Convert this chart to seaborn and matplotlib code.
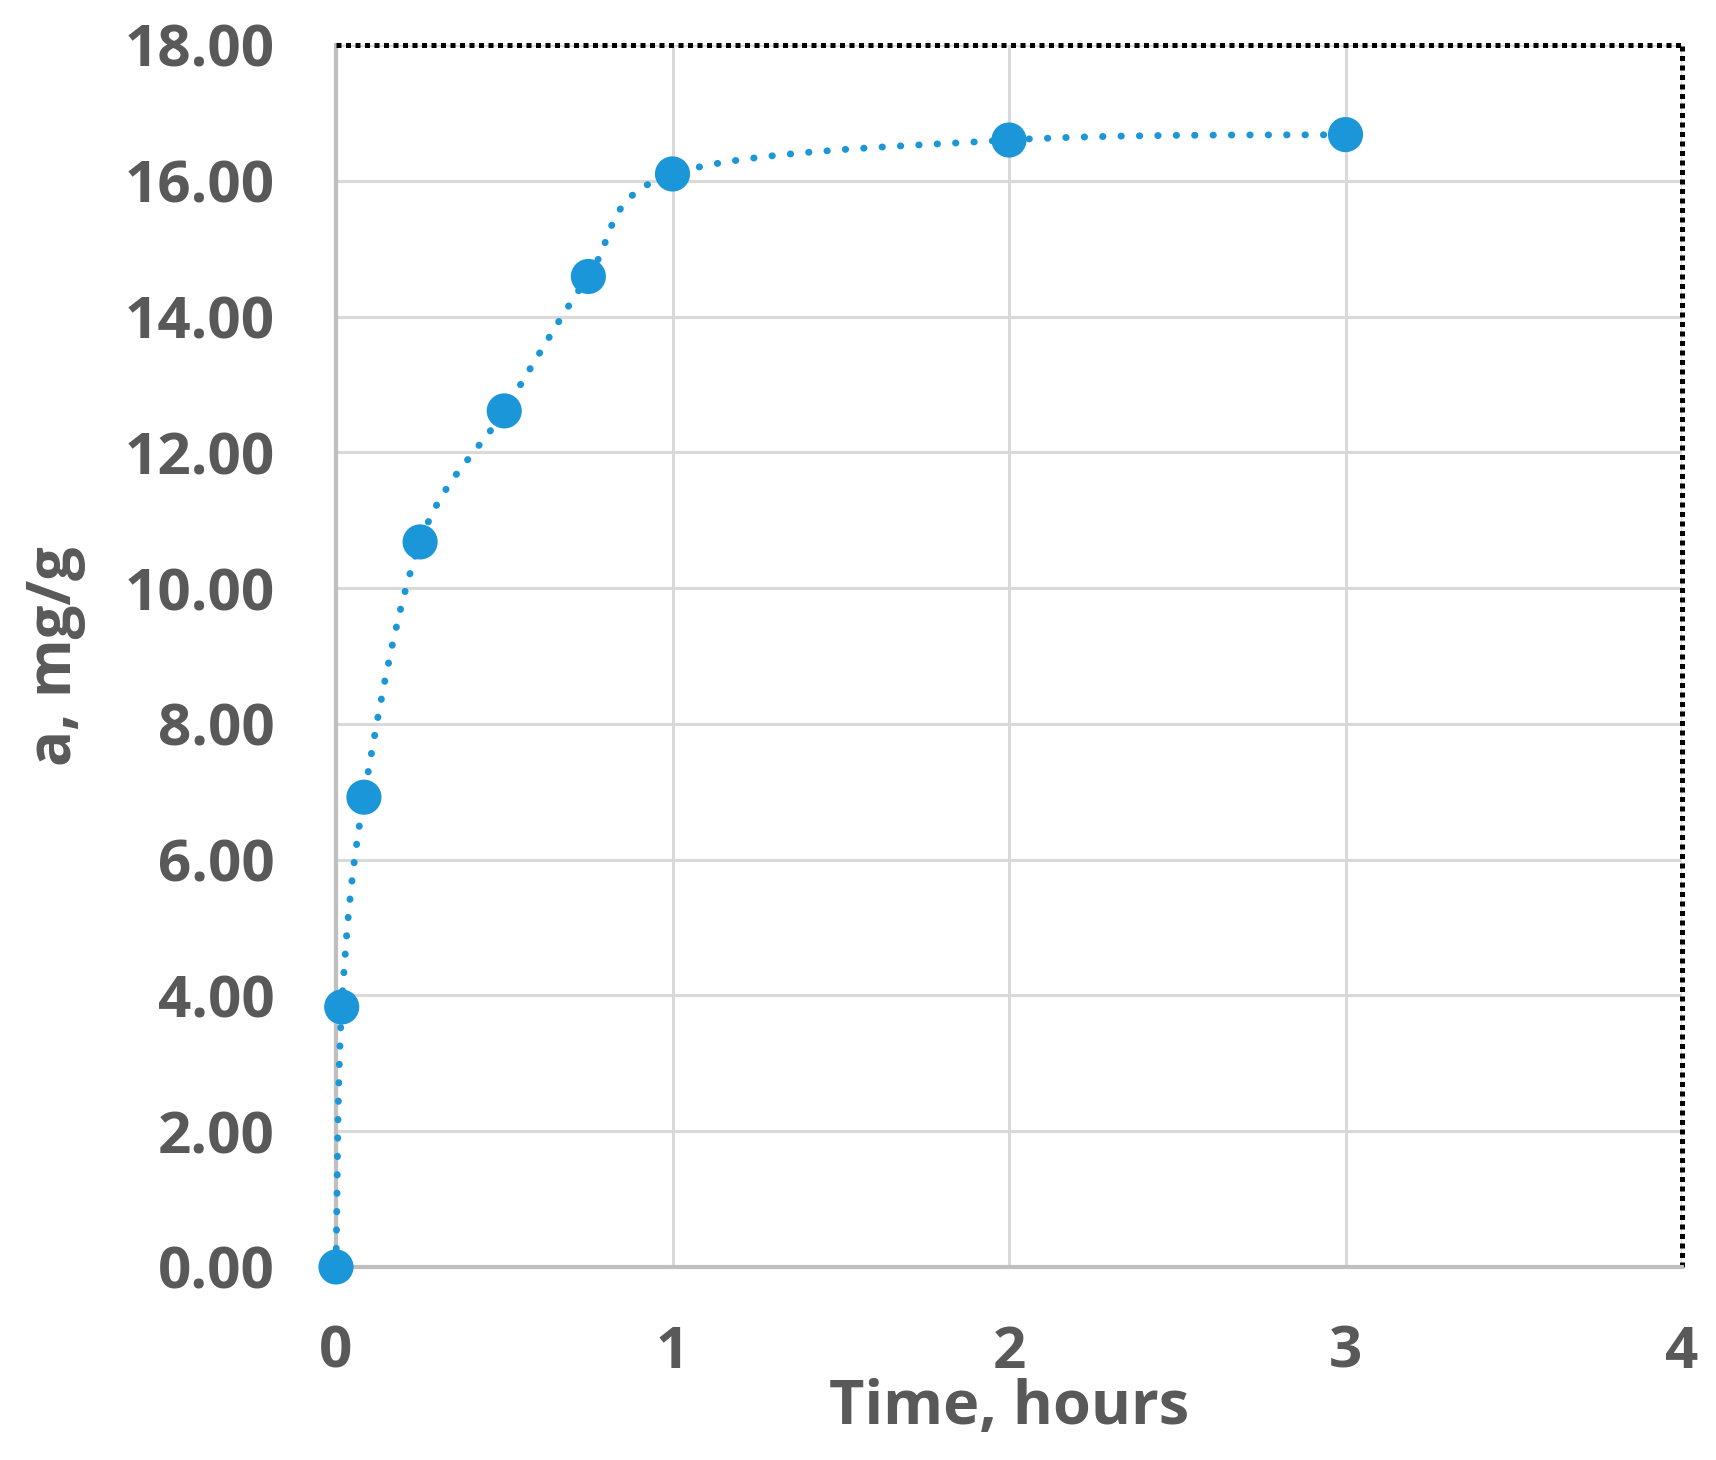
import numpy as np
import pandas as pd
import matplotlib
matplotlib.use("Agg")
import matplotlib.pyplot as plt
from matplotlib.path import Path
from matplotlib.patches import PathPatch
import seaborn as sns

# ---- data ----
time_hours = [0.0, 0.017, 0.083, 0.25, 0.5, 0.75, 1.0, 2.0, 3.0]
adsorption = [0.00, 3.83, 6.92, 10.68, 12.61, 14.59, 16.10, 16.60, 16.68]
x_ticks = [0, 1, 2, 3, 4]
y_ticks = [0, 2, 4, 6, 8, 10, 12, 14, 16, 18]
y_tick_labels = [f"{v:.2f}" for v in y_ticks]
x_label = "Time, hours"
y_label = "a, mg/g"

df = pd.DataFrame({"t": time_hours, "a": adsorption})

sns.set_style("white")
plt.rcParams["font.family"] = ["Open Sans", "DejaVu Sans"]

TEXT = "#595959"
BLUE = "#1b96d8"

fig = plt.figure(figsize=(17.16, 14.60), dpi=100)
ax = fig.add_axes([0.1958, 0.1322, 0.7844, 0.8370])


def smooth_path(xs, ys):
    """Bezier (Catmull-Rom style) path through the points, like a smoothed spreadsheet line."""
    pts = np.column_stack([xs, ys]).astype(float)
    n = len(pts)
    verts = [pts[0]]
    codes = [Path.MOVETO]
    for i in range(n - 1):
        p0 = pts[i - 1] if i > 0 else pts[i]
        p1 = pts[i]
        p2 = pts[i + 1]
        p3 = pts[i + 2] if i + 2 < n else pts[i + 1]
        c1 = p1 + (p2 - p0) / 6.0
        c2 = p2 - (p3 - p1) / 6.0
        verts += [c1, c2, p2]
        codes += [Path.CURVE4] * 3
    return Path(verts, codes)


patch = PathPatch(smooth_path(df["t"].values, df["a"].values), facecolor="none",
                  edgecolor=BLUE, lw=5.0, linestyle=(0, (0.05, 2.6)),
                  capstyle="round", zorder=3, clip_on=False)
ax.add_patch(patch)

sns.scatterplot(data=df, x="t", y="a", ax=ax, s=640, color=BLUE,
                edgecolor="none", zorder=4, clip_on=False, legend=False)

ax.set_xlim(0, 4)
ax.set_ylim(0, 18)
ax.set_xticks(x_ticks)
ax.set_xticklabels([str(v) for v in x_ticks])
ax.set_yticks(y_ticks)
ax.set_yticklabels(y_tick_labels)

ax.grid(True, color="#d9d9d9", lw=2.2, zorder=0)
ax.set_axisbelow(True)

for s in ["left", "bottom"]:
    ax.spines[s].set_color("#bfbfbf")
    ax.spines[s].set_linewidth(3.0)
for s in ["top", "right"]:
    ax.spines[s].set_color("black")
    ax.spines[s].set_linewidth(3.6)
    ax.spines[s].set_linestyle((0, (1.0, 0.9)))
    ax.spines[s].set_capstyle("butt")

ax.tick_params(axis="both", length=0, labelsize=42, labelcolor=TEXT)
ax.tick_params(axis="y", pad=44)
ax.tick_params(axis="x", pad=41)
for lab in ax.get_xticklabels() + ax.get_yticklabels():
    lab.set_fontweight("bold")

ax.set_xlabel(x_label, fontsize=44, fontweight="bold", color=TEXT, labelpad=-3)
ax.set_ylabel(y_label, fontsize=43, fontweight="bold", color=TEXT, labelpad=28)

fig.savefig("out.png", dpi=100, facecolor="white")
